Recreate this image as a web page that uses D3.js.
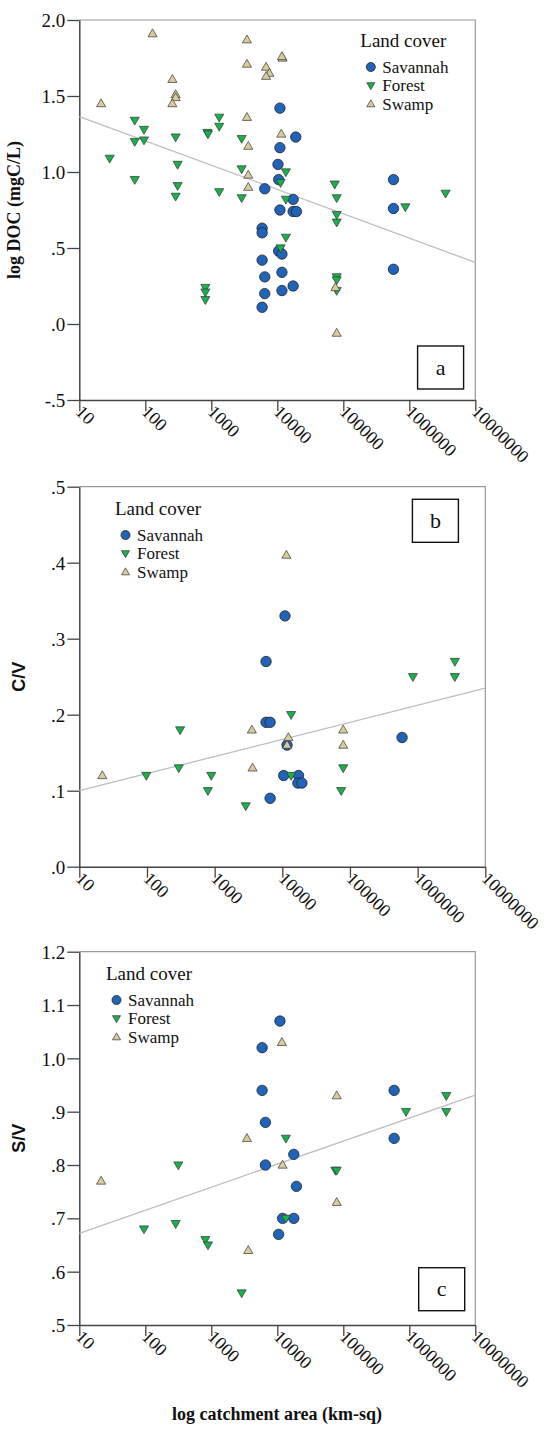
<!DOCTYPE html>
<html>
<head>
<meta charset="utf-8">
<script src="https://cdn.jsdelivr.net/npm/d3@7"></script>
<style>
  body { margin: 0; background: #fff; }
  text { font-family: "Liberation Serif", "Times New Roman", serif; fill: #111; }
</style>
</head>
<body>
<div id="chart"></div>
<script>
// x values are log10(catchment area, km-sq), y values per panel
const xTickLabels = [10, 100, 1000, 10000, 100000, 1000000, 10000000];
const categories = ["Savannah", "Forest", "Swamp"];

// panel a: log DOC
const docSavannah = [[4.04,1.42],[4.28,1.23],[4.04,1.16],[4.01,1.05],[4.02,0.95],[3.81,0.89],[4.24,0.82],
  [4.24,0.74],[4.29,0.74],[4.04,0.75],[3.77,0.63],[3.77,0.60],[3.77,0.42],[3.81,0.31],[3.81,0.20],[3.77,0.11],
  [4.02,0.48],[4.07,0.46],[4.07,0.34],[4.07,0.22],[4.24,0.25],[5.76,0.95],[5.76,0.76],[5.76,0.36]];
const docForest = [[1.46,1.09],[1.84,1.34],[1.84,1.20],[1.84,0.95],[1.98,1.28],[1.98,1.21],[2.46,1.23],
  [2.49,1.05],[2.49,0.91],[2.46,0.84],[2.94,1.26],[2.95,1.25],[2.91,0.24],[2.91,0.21],[2.91,0.16],[3.12,1.36],
  [3.12,1.30],[3.12,0.87],[3.46,1.22],[3.46,1.02],[3.46,0.83],[4.13,1.00],[4.05,0.93],[4.13,0.82],[4.13,0.57],
  [4.05,0.50],[4.87,0.92],[4.90,0.83],[4.90,0.72],[4.90,0.67],[4.90,0.31],[4.90,0.29],[4.90,0.22],[5.94,0.77],[6.55,0.86]];
const docSwamp = [[1.33,1.45],[2.11,1.91],[2.41,1.61],[2.46,1.51],[2.46,1.49],[2.41,1.45],[3.54,1.87],
  [3.54,1.71],[3.83,1.69],[3.88,1.65],[3.83,1.63],[4.08,1.75],[4.07,1.76],[3.54,1.36],[3.56,1.17],[3.56,0.98],
  [3.56,0.90],[4.06,1.25],[4.88,0.24],[4.90,-0.06]];
const docFit = [1.525, -0.16];

// panel b: C/V
const cvSavannah = [[4.04,0.33],[3.76,0.27],[3.76,0.19],[3.82,0.19],[4.07,0.16],[4.02,0.12],[4.24,0.12],
  [4.23,0.11],[4.29,0.11],[3.82,0.09],[5.77,0.17]];
const cvForest = [[1.99,0.12],[2.49,0.18],[2.47,0.13],[2.95,0.12],[2.90,0.10],[3.46,0.08],[4.13,0.20],
  [4.13,0.12],[4.90,0.13],[4.87,0.10],[5.93,0.25],[6.55,0.27],[6.55,0.25]];
const cvSwamp = [[1.34,0.12],[4.06,0.41],[3.55,0.18],[3.56,0.13],[4.09,0.17],[4.07,0.16],[4.90,0.18],[4.90,0.16]];
const cvFit = [0.0775, 0.0225];

// panel c: S/V
const svSavannah = [[4.04,1.07],[3.77,1.02],[3.77,0.94],[3.82,0.88],[3.82,0.80],[4.25,0.82],[4.29,0.76],
  [4.08,0.70],[4.25,0.70],[4.02,0.67],[5.77,0.94],[5.77,0.85]];
const svForest = [[1.98,0.68],[2.46,0.69],[2.50,0.80],[2.91,0.66],[2.95,0.65],[3.46,0.56],[4.13,0.85],
  [4.13,0.70],[4.88,0.79],[4.90,0.79],[5.95,0.90],[6.56,0.93],[6.56,0.90]];
const svSwamp = [[1.33,0.77],[4.07,1.03],[3.54,0.85],[4.08,0.80],[3.56,0.64],[4.90,0.93],[4.90,0.73]];
const svFit = [0.6288, 0.0432];

const colors = {Savannah: "#1f64b8", Forest: "#17b24a", Swamp: "#d8cc9e"};

const svg = d3.select("#chart").append("svg")
  .attr("width", 544)
  .attr("height", 1433);

// SPSS style ticks: ".5", "-.5", "1.0"
const fmtTick = d => d3.format(".1f")(d).replace("\u2212", "-").replace(/^(-?)0\./, "$1.");

// marker drawing
function marker(g, cat, x, y, big) {
  if (cat === "Savannah") {
    g.append("circle").attr("cx", x).attr("cy", y).attr("r", big ? 5.2 : 4.5)
      .attr("fill", colors[cat]).attr("stroke", "#222").attr("stroke-width", 0.8);
  } else {
    g.append("path")
      .attr("d", d3.symbol(d3.symbolTriangle, big ? 36 : 28)())
      .attr("transform", `translate(${x},${y + (cat === "Forest" ? -0.5 : 0.5)}) rotate(${cat === "Forest" ? 180 : 0})`)
      .attr("fill", colors[cat]).attr("stroke", "#333").attr("stroke-width", 0.7);
  }
}

function drawPanel(p) {
  const g = svg.append("g").attr("transform", `translate(${p.left},${p.top})`);

  const x = d3.scaleLinear().domain([1, 7]).range([0, p.width]);
  const y = d3.scaleLinear().domain(p.yDomain).range([p.height, 0]);

  // frame (top / right in grey)
  g.append("path")
    .attr("d", `M0,0H${p.width}V${p.height}`)
    .attr("fill", "none").attr("stroke", "#9a9a9a").attr("stroke-width", 1.2);

  // Y axis
  const yAxis = g.append("g")
    .call(d3.axisLeft(y).tickValues(p.yTicks).tickFormat(fmtTick).tickSize(12).tickSizeOuter(0));
  yAxis.select(".domain").attr("stroke", "#444").attr("stroke-width", 1.5);
  yAxis.selectAll(".tick line").attr("stroke", "#444").attr("stroke-width", 1.3);
  yAxis.selectAll(".tick text")
    .attr("x", -14).attr("dy", "0.35em")
    .style("font-family", "Liberation Serif").style("font-size", "19px").attr("fill", "#111");

  // X axis
  const xAxis = g.append("g")
    .attr("transform", `translate(0,${p.height})`)
    .call(d3.axisBottom(x).tickValues(xTickLabels.map(Math.log10))
      .tickFormat(d => String(Math.round(Math.pow(10, d)))).tickSize(11).tickSizeOuter(0));
  xAxis.select(".domain").attr("stroke", "#444").attr("stroke-width", 1.5);
  xAxis.selectAll(".tick line").attr("stroke", "#444").attr("stroke-width", 1.3);
  xAxis.selectAll(".tick text")
    .attr("text-anchor", "start")
    .attr("x", 0).attr("y", 0).attr("dy", 0)
    .attr("transform", "translate(-5,13) rotate(45)")
    .style("font-family", "Liberation Serif").style("font-size", "18px").attr("fill", "#111");

  // fit line
  g.append("line")
    .attr("x1", x(1)).attr("y1", y(p.fit[0] + p.fit[1] * 1))
    .attr("x2", x(7)).attr("y2", y(p.fit[0] + p.fit[1] * 7))
    .attr("stroke", "#bdbdbd").attr("stroke-width", 1.3);

  // points
  const pts = g.append("g");
  p.series.forEach((s, i) => {
    s.forEach(d => marker(pts, categories[i], x(d[0]), y(d[1]), true));
  });

  // legend
  const lg = g.append("g").attr("transform", `translate(${p.legend[0]},${p.legend[1]})`);
  lg.append("text").attr("x", 0).attr("y", 0)
    .style("font-size", "19px").text("Land cover");
  categories.forEach((c, i) => {
    const cy = 20 + i * 18.5;
    marker(lg, c, 10.5, cy, false);
    lg.append("text").attr("x", 22).attr("y", cy).attr("dy", "0.35em")
      .style("font-size", "17px").text(c);
  });

  // letter box
  g.append("rect")
    .attr("x", p.box[0]).attr("y", p.box[1]).attr("width", 46).attr("height", 43)
    .attr("fill", "#fff").attr("stroke", "#111").attr("stroke-width", 1.4);
  g.append("text")
    .attr("x", p.box[0] + 23).attr("y", p.box[1] + 21.5).attr("dy", "0.32em")
    .attr("text-anchor", "middle").style("font-size", "22px").text(p.letter);

  // y title
  g.append("text")
    .attr("transform", `translate(${p.yTitleX},${p.height / 2}) rotate(-90)`)
    .attr("text-anchor", "middle")
    .style("font-family", p.yTitleFont).style("font-weight", "bold").style("font-size", p.yTitleSize)
    .text(p.yTitle);

  return {g, x, y};
}

drawPanel({
  left: 79.3, top: 20, width: 396, height: 380,
  yDomain: [-0.5, 2], yTicks: [-0.5, 0, 0.5, 1, 1.5, 2],
  series: [docSavannah, docForest, docSwamp], fit: docFit,
  legend: [281, 27], box: [338.3, 326], letter: "a",
  yTitle: "log DOC (mgC/L)", yTitleX: -59, yTitleFont: "Liberation Serif", yTitleSize: "18px"
});

drawPanel({
  left: 79.3, top: 486.7, width: 406, height: 380,
  yDomain: [0, 0.5], yTicks: [0, 0.1, 0.2, 0.3, 0.4, 0.5],
  series: [cvSavannah, cvForest, cvSwamp], fit: cvFit,
  legend: [35.7, 28.3], box: [333.1, 12.6], letter: "b",
  yTitle: "C/V", yTitleX: -54, yTitleFont: "Liberation Sans", yTitleSize: "18px"
});

drawPanel({
  left: 79.3, top: 951.7, width: 396, height: 373.3,
  yDomain: [0.5, 1.2], yTicks: [0.5, 0.6, 0.7, 0.8, 0.9, 1.0, 1.1, 1.2],
  series: [svSavannah, svForest, svSwamp], fit: svFit,
  legend: [26.7, 28.3], box: [339.4, 316], letter: "c",
  yTitle: "S/V", yTitleX: -54, yTitleFont: "Liberation Sans", yTitleSize: "18px"
});

// x axis title under the last panel
svg.append("text")
  .attr("x", 277).attr("y", 1420)
  .attr("text-anchor", "middle")
  .style("font-weight", "bold").style("font-size", "18px")
  .text("log catchment area (km-sq)");
</script>
</body>
</html>
